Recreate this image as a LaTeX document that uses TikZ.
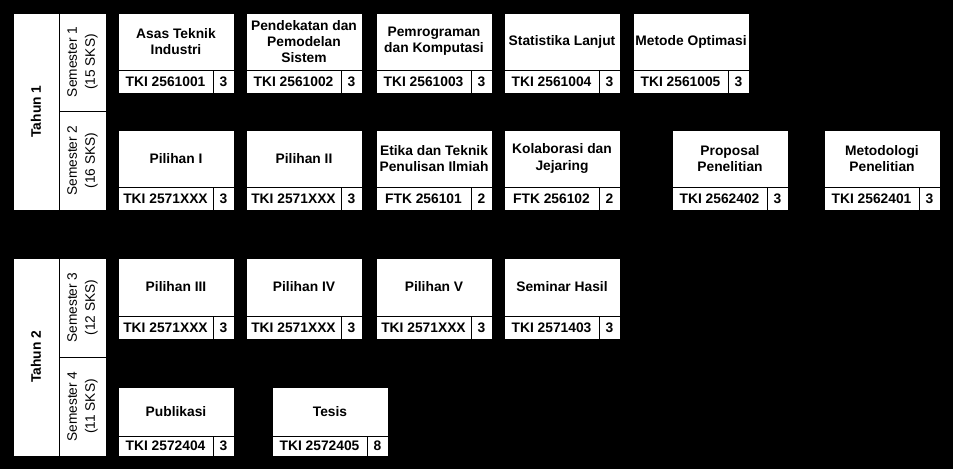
\documentclass[tikz,border=0pt]{standalone}
\usepackage{fontspec}
\setmainfont{Liberation Sans}
\begin{document}
\begin{tikzpicture}[x=1pt,y=-1pt,
  cell/.style={draw=black,fill=white,line width=0.9pt,inner sep=0pt,outer sep=0pt,align=center,
    font=\fontsize{13.8}{16.2}\selectfont\bfseries},
  semcell/.style={cell,rotate=90,font=\fontsize{13.7}{18}\selectfont},
]
\fill[black] (0,0) rectangle (953,469);
\useasboundingbox (0,0) rectangle (953,469);

% year / semester column
\node[cell,rotate=90,minimum width=197pt,minimum height=46pt] (t1) at (36,111.5) {Tahun 1};
\node[semcell,minimum width=98pt,minimum height=47pt] (s1) at (82.5,62) {Semester 1\\(15 SKS)};
\node[semcell,minimum width=99pt,minimum height=47pt] (s2) at (82.5,160.5) {Semester 2\\(16 SKS)};
\node[cell,rotate=90,minimum width=198pt,minimum height=46pt] (t2) at (36,357) {Tahun 2};
\node[semcell,minimum width=99pt,minimum height=47pt] (s3) at (82.5,307.5) {Semester 3\\(12 SKS)};
\node[semcell,minimum width=99pt,minimum height=47pt] (s4) at (82.5,406.5) {Semester 4\\(11 SKS)};

% course macro: name, x, y, top height, bottom height, title, code, credit
\newcommand\mkcourse[8]{%
  \node[cell,anchor=north west,minimum width=116pt,minimum height=#4pt] (#1) at (#2,#3) {#6};
  \node[cell,anchor=north west,minimum width=95pt,minimum height=#5pt] (#1c) at (#1.south west) {#7};
  \node[cell,anchor=north west,minimum width=21pt,minimum height=#5pt] (#1k) at (#1c.north east) {#8};
}

% semester 1
\mkcourse{a1}{118}{13}{57}{23}{Asas Teknik\\Industri}{TKI 2561001}{3}
\mkcourse{a2}{246}{13}{57}{23}{Pendekatan dan\\Pemodelan\\Sistem}{TKI 2561002}{3}
\mkcourse{a3}{376}{13}{57}{23}{Pemrograman\\dan Komputasi}{TKI 2561003}{3}
\mkcourse{a4}{504}{13}{57}{23}{Statistika Lanjut}{TKI 2561004}{3}
\mkcourse{a5}{633}{13}{57}{23}{Metode Optimasi}{TKI 2561005}{3}

% semester 2
\mkcourse{b1}{118}{130}{57}{23}{Pilihan I}{TKI 2571XXX}{3}
\mkcourse{b2}{246}{130}{57}{23}{Pilihan II}{TKI 2571XXX}{3}
\mkcourse{b3}{376}{130}{57}{23}{Etika dan Teknik\\Penulisan Ilmiah}{FTK 256101}{2}
\mkcourse{b4}{504}{130}{57}{23}{Kolaborasi dan\\Jejaring}{FTK 256102}{2}
\mkcourse{b5}{672}{130}{57}{23}{Proposal\\Penelitian}{TKI 2562402}{3}
\mkcourse{b6}{824}{130}{57}{23}{Metodologi\\Penelitian}{TKI 2562401}{3}

% semester 3
\mkcourse{c1}{118}{258}{58}{23}{Pilihan III}{TKI 2571XXX}{3}
\mkcourse{c2}{246}{258}{58}{23}{Pilihan IV}{TKI 2571XXX}{3}
\mkcourse{c3}{376}{258}{58}{23}{Pilihan V}{TKI 2571XXX}{3}
\mkcourse{c4}{504}{258}{58}{23}{Seminar Hasil}{TKI 2571403}{3}

% semester 4
\mkcourse{d1}{118}{387}{49}{20}{Publikasi}{TKI 2572404}{3}
\mkcourse{d2}{272}{387}{49}{20}{Tesis}{TKI 2572405}{8}
\end{tikzpicture}
\end{document}
